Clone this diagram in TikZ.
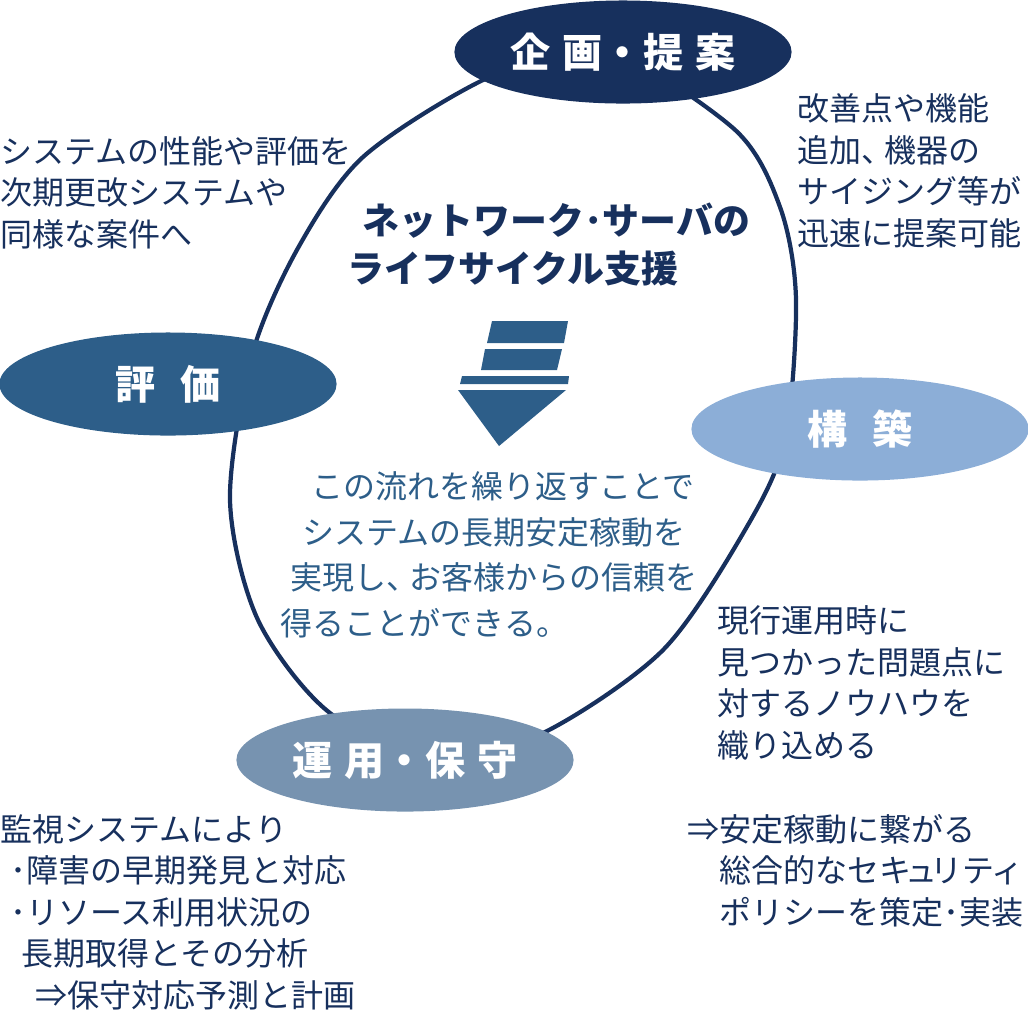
\documentclass[tikz,border=0pt]{standalone}
\usepackage{fontspec}
\setmainfont{Noto Sans CJK JP}
\usepackage{xcolor}
\usetikzlibrary{shapes}
\definecolor{navy}{HTML}{17305D}
\definecolor{midblue}{HTML}{2D5E89}
\definecolor{lightblue}{HTML}{8CAED7}
\definecolor{greyblue}{HTML}{7793B0}

\begin{document}
\begin{tikzpicture}[
		x=0.01cm, y=-0.01cm,
		phase/.style={
			ellipse, inner sep=0pt, minimum width=3.37cm, minimum height=1.03cm, text=white, font=\fontsize{11.4pt}{11.4pt}\selectfont\bfseries
		},
		note/.style={
			align=left, anchor=base west, inner sep=0pt, text=navy, font=\fontsize{9.1pt}{11.8pt}\selectfont
		},
		headline/.style={
			align=left, anchor=base west, inner sep=0pt, text=navy, font=\fontsize{10.5pt}{13.6pt}\selectfont\bfseries
		},
		flowtext/.style={
			align=left, anchor=base west, inner sep=0pt, text=midblue, font=\fontsize{9.1pt}{12.9pt}\selectfont
		},
		cycleline/.style={
			draw=navy, line width=1.2pt
		},
		]
		\useasboundingbox (0,0) rectangle (1028,1020);
		
		% life cycle
		\draw [cycleline] plot [smooth cycle] coordinates {
			(595,45) (733,128) (780,207) (796,300) (785,440) (745,530) (663,650) (545,732)
			(440,760) (330,713) (258,620) (230,500) (252,355) (298,248) (363,157) (483,80)};
		
		% phases
		\node [phase, fill=navy] (plan) at (623,52) {企\hspace{.12cm}画・提\hspace{.12cm}案};
		\node [phase, fill=midblue] (review) at (168,384) {評\hspace{.24cm}価};
		\node [phase, fill=lightblue] (build) at (860,429) {構\hspace{.24cm}築};
		\node [phase, fill=greyblue] (operate) at (405,760) {運\hspace{.12cm}用・保\hspace{.12cm}守};
		
		% centre (base = last line)
		\node [headline] (title) at (347,282) {\hspace*{.15cm}ネットワーク･サーバの\\ライフサイクル支援};
		\fill [midblue] (492,321) -- (568,321) -- (564,343) -- (487,343) -- cycle;
		\fill [midblue] (485,349) -- (562,349) -- (557,370) -- (481,370) -- cycle;
		\fill [midblue] (462,376) -- (569,376) -- (568,384) -- (460,384) -- cycle;
		\fill [midblue] (458,390) -- (566,390) -- (499,446) -- cycle;
		\node [flowtext] (flow) at (280,635) {\hspace*{.31cm}この流れを繰り返すことで\\\hspace*{.22cm}システムの長期安定稼動を\\\hspace*{.10cm}実現し、\kern-.3em お客様からの信頼を\\得ることができる。};
		
		% notes
		\node [note] (reviewnote) at (0,246) {システムの性能や評価を\\次期更改システムや\\同様な案件へ};
		\node [note] (plannote) at (797,245) {改善点や機能\\追加、\kern-.3em 機器の\\サイジング等が\\迅速に提案可能};
		\node [note] (buildnote) at (717,757) {現行運用時に\\見つかった問題点に\\対するノウハウを\\織り込める};
		\node [note] (secnote) at (687,924) {⇒安定稼動に繋がる\\\hspace*{1em}総合的なセキ\kern-.2em ュ\kern-.2em リテ\kern-.1em ィ\\\hspace*{1em}ポリシーを策定･実装};
		\node [note] (opnote) at (0,1007) {監視システムにより\\\hspace*{.3em}･障害の早期発見と対応\\\hspace*{.3em}･リソース利用状況の\\\hspace*{.65em}長期取得とその分析\\\hspace*{1.1em}⇒保守対応予測と計画};
		
	\end{tikzpicture}
\end{document}
